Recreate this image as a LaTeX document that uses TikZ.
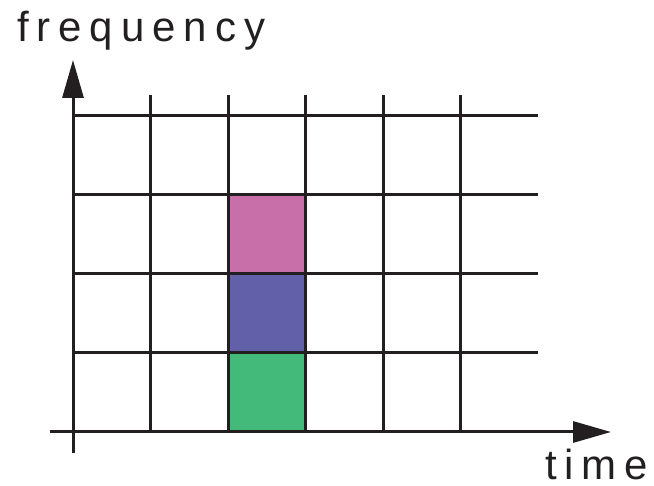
\documentclass[tikz,border=0pt]{standalone}
\usepackage{fontspec}
\setmainfont{Liberation Sans}[LetterSpace=19]
\usetikzlibrary{arrows.meta}
\definecolor{linec}{HTML}{231F20}
\definecolor{pinkc}{HTML}{C86EA8}
\definecolor{bluec}{HTML}{6360AA}
\definecolor{greenc}{HTML}{44BA7A}
\begin{document}
\begin{tikzpicture}[x=1pt,y=-1pt,
  gridline/.style={draw=linec,line width=3pt},
  axisline/.style={draw=linec,line width=3pt,-{Triangle[length=38pt,width=21pt]}},
  cell/.style={draw=linec,line width=3pt,minimum width=77.5pt,minimum height=79pt,inner sep=0pt,outer sep=0pt},
  lbl/.style={inner sep=0pt,outer sep=0pt,text=linec,font=\fontsize{42}{50}\selectfont}]
\useasboundingbox (0,0) rectangle (654,486);
% coloured cells
\node[cell,fill=pinkc] (pink) at (266.75,234.5) {};
\node[cell,fill=bluec] (blue) at (266.75,313.5) {};
\node[cell,fill=greenc] (green) at (266.75,392.5) {};
% grid
\foreach \x in {150.5,228,305.5,383,460.5}
  \draw[gridline] (\x,95) -- (\x,432);
\foreach \y in {116,195,274,353}
  \draw[gridline] (73,\y) -- (538,\y);
% axes
\coordinate (ys) at (73,453);
\coordinate (ye) at (73,60);
\coordinate (xs) at (50,432);
\coordinate (xe) at (611,432);
\draw[axisline] (ys) -- (ye);
\draw[axisline] (xs) -- (xe);
% labels
\node[lbl,anchor=base west] (freq) at (17,41.5) {frequency\kern-8pt};
\node[lbl,anchor=base west] (time) at (545,479) {time\kern-8pt};
\end{tikzpicture}
\end{document}
